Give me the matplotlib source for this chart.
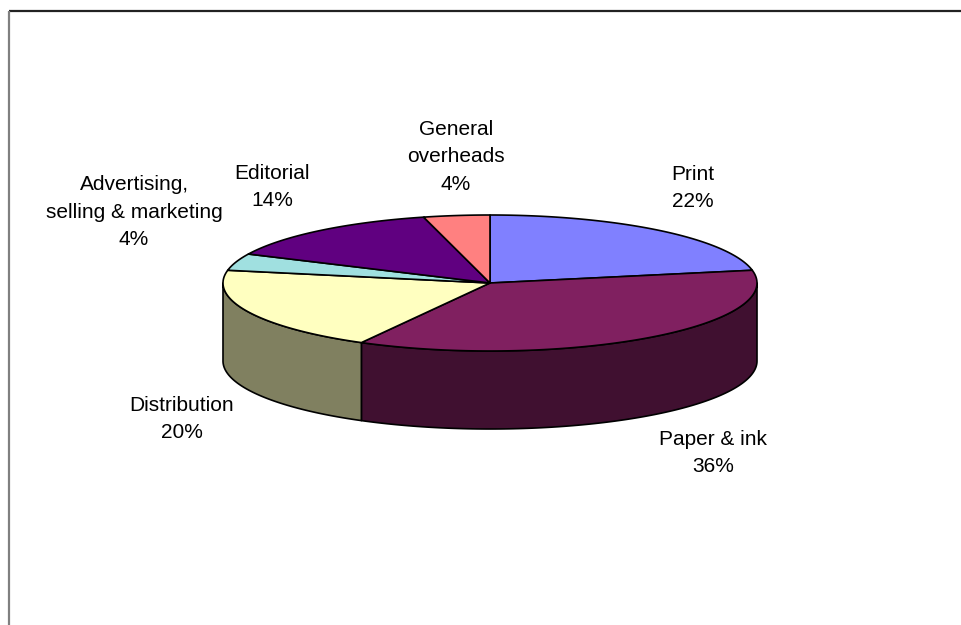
import numpy as np
import matplotlib
matplotlib.use("Agg")
import matplotlib.pyplot as plt
from matplotlib.patches import Polygon
from matplotlib.colors import to_rgb

labels = ["Print", "Paper & ink", "Distribution",
          "Advertising,\nselling & marketing", "Editorial", "General\noverheads"]
values = [22, 36, 20, 4, 14, 4]
colors = ["#8080FF", "#802060", "#FFFFC0", "#A0E0E0", "#600080", "#FF8080"]

# label anchor points (pixel space, y down)
label_pos = [(693, 188), (713, 453), (182, 419), (134, 212), (272, 187), (456, 157)]

W, H = 961, 625
fig = plt.figure(figsize=(W / 100, H / 100), dpi=100)
ax = fig.add_axes([0, 0, 1, 1])
ax.set_xlim(0, W)
ax.set_ylim(H, 0)
ax.axis("off")

# chart frame (top and left edges visible)
ax.plot([8.5, W], [11, 11], color="#222222", lw=1.6, solid_capstyle="butt")
ax.plot([8.5, 8.5], [11, H], color="#808080", lw=1.6, solid_capstyle="butt")

cx, cy = 490, 283
rx, ry = 267, 68
depth = 78
edge = dict(edgecolor="black", linewidth=1.2, joinstyle="round")


def ell(t, dy=0):
    t = np.radians(t)
    return np.column_stack([cx + rx * np.cos(t), cy - ry * np.sin(t) + dy])


total = sum(values)
cum = np.concatenate([[0], np.cumsum(values)]) / total * 360
spans = [(90 - cum[i + 1], 90 - cum[i]) for i in range(len(values))]

# side walls for the front half of the disc
for (a, b), c in zip(spans, colors):
    shade = tuple(v * 0.5 for v in to_rgb(c))
    for k in (-360, 0, 360):
        lo, hi = max(a + k, -180), min(b + k, 0)
        if hi <= lo:
            continue
        t = np.linspace(lo, hi, 120)
        pts = np.vstack([ell(t), ell(t[::-1], depth)])
        ax.add_patch(Polygon(pts, closed=True, facecolor=shade, **edge))

# top face wedges
for (a, b), c in zip(spans, colors):
    t = np.linspace(a, b, 200)
    pts = np.vstack([[cx, cy], ell(t)])
    ax.add_patch(Polygon(pts, closed=True, facecolor=c, **edge))

for lab, v, (x, y) in zip(labels, values, label_pos):
    ax.text(x, y, f"{lab}\n{v}%", ha="center", va="center",
            family="Liberation Sans", fontsize=15, linespacing=1.58)

fig.savefig("out.png", dpi=100)
